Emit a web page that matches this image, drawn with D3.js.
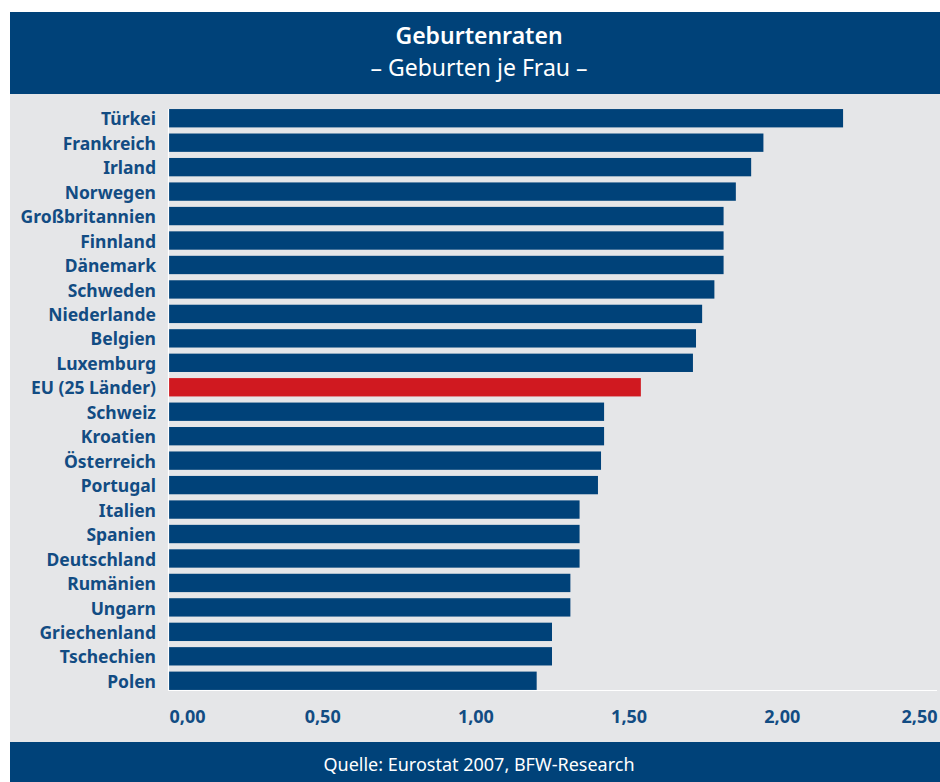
<!DOCTYPE html>
<html>
<head>
<meta charset="utf-8">
<script src="https://cdn.jsdelivr.net/npm/d3@7"></script>
<style>
  html, body { margin: 0; padding: 0; background: #ffffff; }
  svg { display: block; }
</style>
</head>
<body>
<svg id="chart" width="940" height="782"></svg>
<script>
// Total fertility rate, births per woman
const countries = ["Türkei", "Frankreich", "Irland", "Norwegen", "Großbritannien", "Finnland",
  "Dänemark", "Schweden", "Niederlande", "Belgien", "Luxemburg", "EU (25 Länder)", "Schweiz",
  "Kroatien", "Österreich", "Portugal", "Italien", "Spanien", "Deutschland", "Rumänien",
  "Ungarn", "Griechenland", "Tschechien", "Polen"];
const rates = [2.20, 1.94, 1.90, 1.85, 1.81, 1.81, 1.81, 1.78, 1.74, 1.72, 1.71, 1.54, 1.42,
  1.42, 1.41, 1.40, 1.34, 1.34, 1.34, 1.31, 1.31, 1.25, 1.25, 1.20];
const highlighted = ["EU (25 Länder)"];
const tickValues = [0, 0.5, 1.0, 1.5, 2.0, 2.5];
const titleText = "Geburtenraten";
const subtitleText = "– Geburten je Frau –";
const sourceText = "Quelle: Eurostat 2007, BFW-Research";

const data = countries.map((c, i) => ({ country: c, value: rates[i] }));

const navy = "#004279";
const red = "#d01920";
const panel = "#e5e6e8";
const labelColor = "#124c83";
const labelFont = "'Noto Sans', 'DejaVu Sans', sans-serif";

const svg = d3.select("#chart");

// Header band
svg.append("rect").attr("x", 10).attr("y", 12).attr("width", 930).attr("height", 82).attr("fill", navy);
svg.append("text").attr("x", 479).attr("y", 44).attr("text-anchor", "middle")
  .attr("fill", "#fff").attr("font-family", labelFont).attr("font-weight", 600)
  .attr("font-size", 23).text(titleText);
svg.append("text").attr("x", 479).attr("y", 76).attr("text-anchor", "middle")
  .attr("fill", "#fff").attr("font-family", labelFont).attr("font-weight", 400)
  .attr("font-size", 23).text(subtitleText);

// Plot panel
svg.append("rect").attr("x", 10).attr("y", 94).attr("width", 930).attr("height", 648).attr("fill", panel);

// Footer band
svg.append("rect").attr("x", 10).attr("y", 742).attr("width", 930).attr("height", 40).attr("fill", navy);
svg.append("text").attr("x", 479).attr("y", 771).attr("text-anchor", "middle")
  .attr("fill", "#fff").attr("font-family", labelFont).attr("font-size", 18).text(sourceText);

// Scales
const x = d3.scaleLinear().domain([0, 2.5]).range([169, 935]);
const y = d3.scaleBand().domain(countries).range([106, 693]).paddingInner(0.25).paddingOuter(0.125);

// Bars
svg.append("g").selectAll("rect").data(data).join("rect")
  .attr("x", x(0))
  .attr("y", d => y(d.country))
  .attr("width", d => x(d.value) - x(0))
  .attr("height", y.bandwidth())
  .attr("fill", d => highlighted.includes(d.country) ? red : navy);

// Axis lines (white)
svg.append("line").attr("x1", x(0) - 0.5).attr("x2", x(0) - 0.5)
  .attr("y1", y(countries[0])).attr("y2", 690.5).attr("stroke", "#fff").attr("stroke-width", 1.2);
svg.append("line").attr("x1", x(0) - 1).attr("x2", 937)
  .attr("y1", 690.5).attr("y2", 690.5).attr("stroke", "#fff").attr("stroke-width", 1.2);

// Category labels
const yAxis = d3.axisLeft(y).tickSize(0).tickPadding(0);
const gy = svg.append("g").attr("transform", "translate(156,1)").call(yAxis);
gy.select(".domain").remove();
gy.selectAll("text")
  .attr("fill", labelColor).attr("font-family", labelFont).attr("font-weight", 700)
  .attr("font-size", 17.5).attr("dy", "0.35em");

// Value axis labels, edge labels kept inside the panel
const xAxis = d3.axisBottom(x).tickValues(tickValues).tickSize(0).tickPadding(0)
  .tickFormat(d => d3.format(".2f")(d).replace(".", ","));
const gx = svg.append("g").attr("transform", "translate(0,717)").call(xAxis);
gx.select(".domain").remove();
gx.selectAll("text")
  .attr("fill", labelColor).attr("font-family", labelFont).attr("font-weight", 700)
  .attr("font-size", 18).attr("dy", "0.35em")
  .attr("text-anchor", (d, i) => i === 0 ? "start" : (i === tickValues.length - 1 ? "end" : "middle"))
  .attr("x", (d, i) => i === tickValues.length - 1 ? 937 - x(d) : 0);
</script>
</body>
</html>
